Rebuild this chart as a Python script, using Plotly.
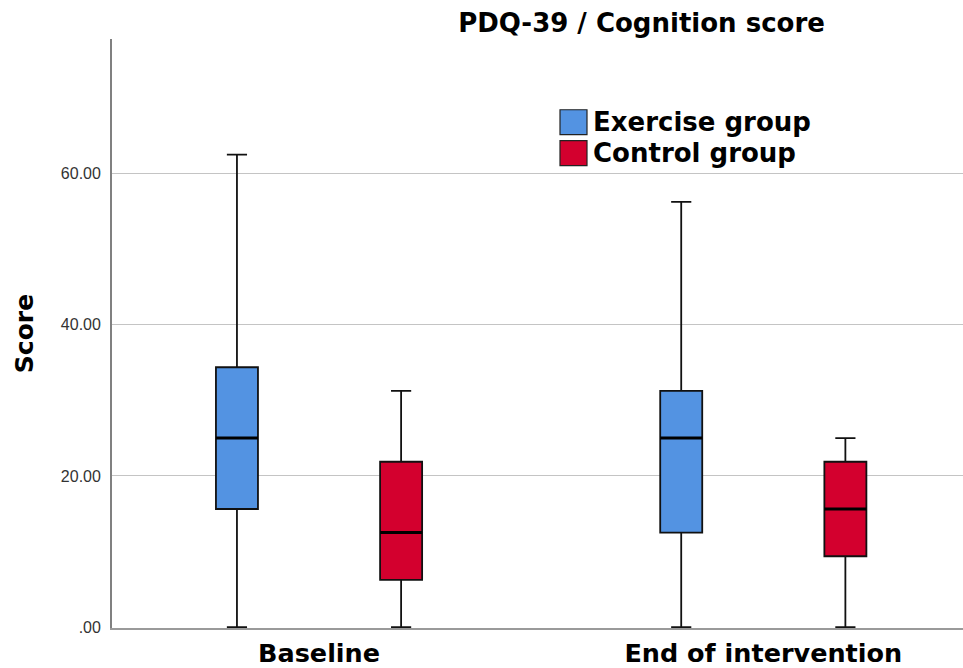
import plotly.graph_objects as go

# ---------------- data ----------------
categories = ["Baseline", "End of intervention"]
groups = ["Exercise group", "Control group"]
colors = ["#5393E2", "#D3002E"]

ex_lower = [0.0, 0.0]
ex_q1 = [15.625, 12.5]
ex_median = [25.0, 25.0]
ex_q3 = [34.375, 31.25]
ex_upper = [62.5, 56.25]

ct_lower = [0.0, 0.0]
ct_q1 = [6.25, 9.375]
ct_median = [12.5, 15.625]
ct_q3 = [21.875, 21.875]
ct_upper = [31.25, 25.0]

y_tick_vals = [0, 20, 40, 60]
y_tick_text = [".00", "20.00", "40.00", "60.00"]
y_grid_vals = [20, 40, 60]

title_text = "PDQ-39 / Cognition score"
y_title = "Score"

# ---------------- layout constants ----------------
W, H = 963, 668
ML, MR, MT, MB = 112, 0, 39, 38
PW, PH = W - ML - MR, H - MT - MB


def px_x(px):
    return (px - ML) / PW


def px_y(py):
    return (H - MB - py) / PH


BOLD = "DejaVu Sans"

fig = go.Figure()

stats = [
    (ex_lower, ex_q1, ex_median, ex_q3, ex_upper),
    (ct_lower, ct_q1, ct_median, ct_q3, ct_upper),
]

for name, col, (lo, q1, med, q3, up) in zip(groups, colors, stats):
    fig.add_trace(go.Box(
        x=categories, lowerfence=lo, q1=q1, median=med, q3=q3, upperfence=up,
        name=name, offsetgroup=name, fillcolor=col,
        line=dict(color="#111111", width=1.8), whiskerwidth=0.48,
        boxpoints=False, showlegend=False, hoverinfo="skip",
    ))

# thicker median lines (degenerate boxes drawn at the median)
for name, col, (lo, q1, med, q3, up) in zip(groups, colors, stats):
    fig.add_trace(go.Box(
        x=categories, lowerfence=med, q1=med, median=med, q3=med, upperfence=med,
        name=name + " median", offsetgroup=name, fillcolor="#000000",
        line=dict(color="#000000", width=3), whiskerwidth=0,
        boxpoints=False, showlegend=False, hoverinfo="skip",
    ))

# custom legend
legend_rows = [(110, 135), (141, 166)]
shapes = []
annotations = []
for (top, bot), name, col in zip(legend_rows, groups, colors):
    shapes.append(dict(type="rect", xref="paper", yref="paper",
                       x0=px_x(560), x1=px_x(587), y0=px_y(bot), y1=px_y(top),
                       fillcolor=col, line=dict(color="#222222", width=1.2)))
    annotations.append(dict(xref="paper", yref="paper", x=px_x(591), y=px_y((top + bot) / 2),
                            xanchor="left", yanchor="middle", showarrow=False, text=name,
                            font=dict(family=BOLD, size=26, color="#000000", weight="bold")))

fig.update_layout(
    width=W, height=H,
    margin=dict(l=ML, r=MR, t=MT, b=MB),
    paper_bgcolor="white", plot_bgcolor="white",
    boxmode="group", boxgap=0.261, boxgroupgap=0.744,
    showlegend=False,
    title=dict(text=title_text, font=dict(family=BOLD, size=26, color="#000000", weight="bold"),
               x=641.5 / W, xanchor="center", xref="container",
               y=1 - 23 / H, yanchor="middle", yref="container"),
    xaxis=dict(type="category", range=[-0.466, 1.4495], showline=True, linecolor="#9a9a9a",
               linewidth=1.5, showgrid=False, ticks="", layer="below traces",
               tickfont=dict(family=BOLD, size=25.5, color="#000000", weight="bold"),
               ticklabelstandoff=2),
    yaxis=dict(range=[-0.12, 77.8], tickmode="array", tickvals=y_tick_vals, ticktext=y_tick_text,
               showgrid=False, showline=True,
               linecolor="#808080", linewidth=1.8, zeroline=False, ticks="",
               minor=dict(tickmode="array", tickvals=y_grid_vals, showgrid=True,
                          gridcolor="#c4c4c4", gridwidth=1, ticks=""),
               tickfont=dict(family="Liberation Sans", size=16, color="#333333"),
               ticklabelstandoff=6, layer="below traces",
               title=dict(text=y_title, font=dict(family=BOLD, size=25, color="#000000", weight="bold"),
                          standoff=20)),
    shapes=shapes,
    annotations=annotations,
)

fig.write_html("out.html")
